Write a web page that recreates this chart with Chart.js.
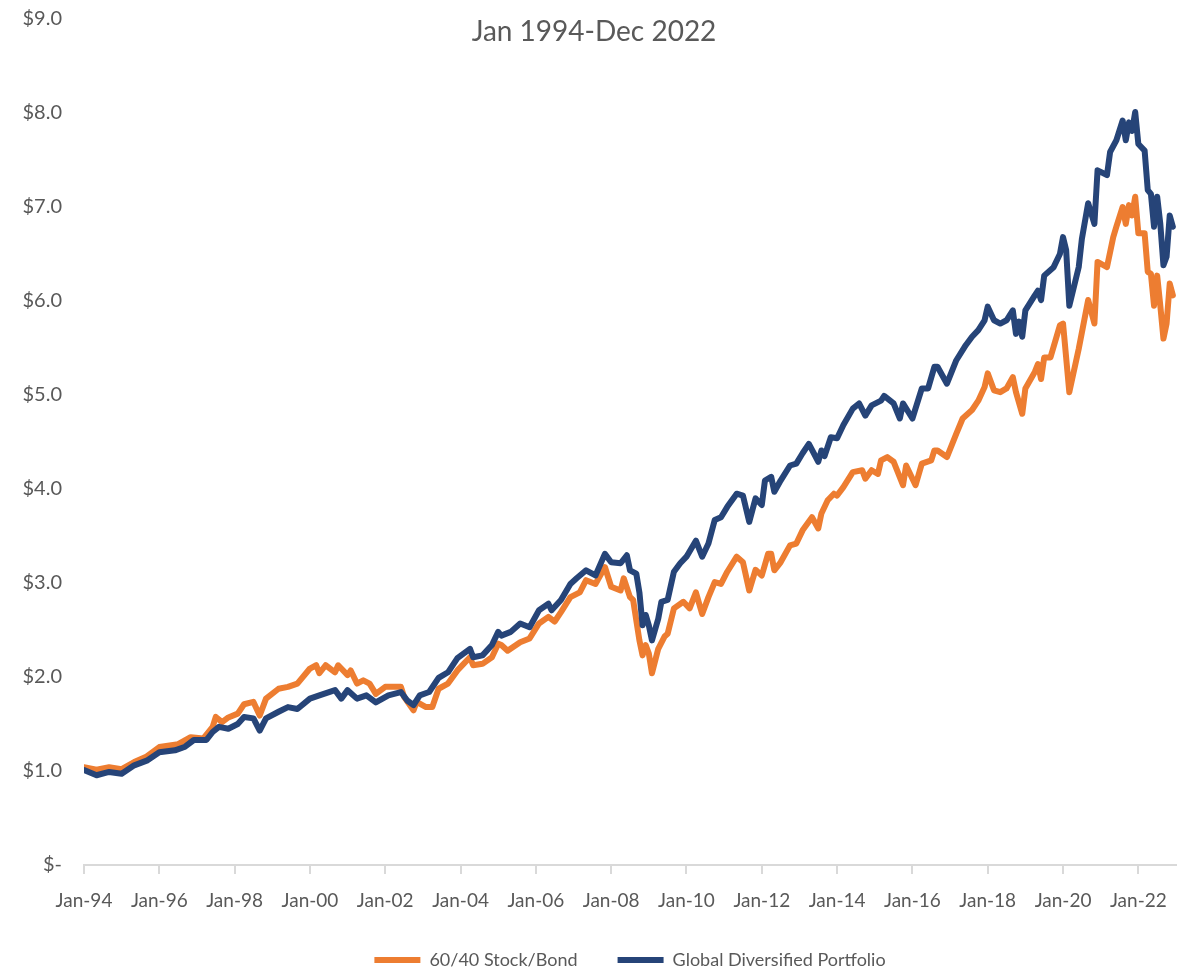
<!DOCTYPE html>
<html>
<head>
<meta charset="utf-8">
<title>Jan 1994-Dec 2022</title>
<script src="https://cdn.jsdelivr.net/npm/chart.js@4.4.0/dist/chart.umd.min.js"></script>
<style>
  html, body { margin: 0; padding: 0; background: #fff; overflow: hidden; }
  #wrap { width: 1192px; height: 990px; }
</style>
</head>
<body>
<div id="wrap"><canvas id="chart" width="1192" height="990"></canvas></div>
<script>
const chartTitle = "Jan 1994-Dec 2022";
const seriesNames = ["60/40 Stock/Bond", "Global Diversified Portfolio"];
const xTickLabels = ["Jan-94", "Jan-96", "Jan-98", "Jan-00", "Jan-02", "Jan-04", "Jan-06", "Jan-08",
  "Jan-10", "Jan-12", "Jan-14", "Jan-16", "Jan-18", "Jan-20", "Jan-22"];
const yTickLabels = ["$-", "$1.0", "$2.0", "$3.0", "$4.0", "$5.0", "$6.0", "$7.0", "$8.0", "$9.0"];

// months since Jan 1994 -> growth of $1
const stockBondMonths = [0, 4, 8, 12, 16, 20, 24, 30, 34, 38, 41, 42, 44, 46, 49, 51, 54, 56, 58, 62, 65, 68, 72, 74, 75, 77, 80, 81, 84, 85, 87, 89, 91, 93, 96, 99, 101, 102, 105, 106, 109, 111, 113, 116, 119, 123, 124, 127, 130, 132, 133, 135, 139, 142, 145, 148, 150, 152, 155, 158, 160, 163, 166, 168, 171, 172, 174, 175, 177, 178, 179, 180, 181, 183, 185, 186, 188, 191, 193, 195, 197, 199, 201, 203, 205, 208, 210, 212, 214, 216, 218, 219, 220, 222, 225, 227, 229, 232, 234, 235, 237, 239, 240, 242, 245, 248, 249, 251, 253, 254, 256, 258, 261, 262, 265, 267, 270, 271, 272, 275, 278, 280, 283, 285, 287, 288, 290, 292, 294, 296, 297, 299, 300, 303, 304, 305, 306, 308, 311, 312, 314, 317, 320, 322, 323, 326, 328, 329, 331, 332, 333, 334, 335, 336, 338, 339, 340, 341, 342, 343, 344, 345, 346, 347];
const stockBondValues = [1.04, 1.015, 1.04, 1.02, 1.095, 1.155, 1.255, 1.285, 1.36, 1.345, 1.47, 1.575, 1.52, 1.57, 1.61, 1.71, 1.735, 1.59, 1.77, 1.875, 1.895, 1.93, 2.09, 2.125, 2.04, 2.125, 2.05, 2.125, 2.02, 2.07, 1.93, 1.965, 1.93, 1.82, 1.895, 1.895, 1.895, 1.79, 1.645, 1.735, 1.68, 1.68, 1.875, 1.93, 2.07, 2.21, 2.125, 2.14, 2.21, 2.355, 2.34, 2.28, 2.37, 2.41, 2.57, 2.64, 2.59, 2.69, 2.85, 2.90, 3.03, 2.99, 3.17, 2.96, 2.92, 3.05, 2.85, 2.82, 2.39, 2.23, 2.34, 2.25, 2.04, 2.30, 2.43, 2.46, 2.73, 2.80, 2.73, 2.90, 2.67, 2.85, 3.01, 2.99, 3.12, 3.28, 3.22, 2.92, 3.14, 3.08, 3.31, 3.31, 3.135, 3.22, 3.40, 3.42, 3.56, 3.70, 3.58, 3.74, 3.88, 3.95, 3.93, 4.02, 4.18, 4.20, 4.11, 4.20, 4.16, 4.305, 4.34, 4.29, 4.04, 4.25, 4.04, 4.27, 4.305, 4.41, 4.41, 4.34, 4.59, 4.75, 4.84, 4.94, 5.085, 5.23, 5.05, 5.03, 5.07, 5.19, 5.03, 4.80, 5.07, 5.245, 5.33, 5.17, 5.40, 5.40, 5.74, 5.76, 5.03, 5.49, 6.01, 5.76, 6.415, 6.36, 6.68, 6.79, 7.00, 6.82, 7.02, 6.91, 7.11, 6.72, 6.72, 6.31, 6.29, 5.95, 6.27, 5.95, 5.60, 5.76, 6.185, 6.06];

const globalMonths = [0, 4, 8, 12, 16, 20, 24, 29, 32, 35, 39, 41, 43, 46, 49, 51, 54, 56, 58, 62, 65, 68, 72, 75, 80, 82, 84, 87, 90, 93, 97, 101, 103, 105, 107, 110, 113, 116, 119, 123, 124, 127, 130, 132, 133, 136, 139, 142, 145, 148, 149, 152, 155, 157, 160, 163, 166, 168, 171, 173, 174, 176, 177, 178, 179, 180, 181, 183, 184, 186, 188, 190, 192, 195, 197, 199, 201, 203, 205, 208, 210, 212, 214, 216, 217, 219, 220, 222, 225, 227, 229, 231, 234, 235, 236, 238, 240, 242, 245, 247, 249, 251, 254, 255, 258, 260, 261, 264, 267, 269, 271, 272, 275, 278, 281, 283, 285, 287, 288, 290, 292, 294, 296, 297, 298, 299, 300, 303, 304, 305, 306, 309, 311, 312, 313, 314, 317, 318, 320, 322, 323, 326, 327, 329, 331, 332, 333, 334, 335, 336, 338, 339, 340, 341, 342, 343, 344, 345, 346, 347];
const globalValues = [1.01, 0.955, 0.99, 0.97, 1.06, 1.11, 1.20, 1.22, 1.255, 1.33, 1.33, 1.415, 1.47, 1.45, 1.50, 1.575, 1.56, 1.43, 1.56, 1.63, 1.68, 1.66, 1.77, 1.805, 1.86, 1.77, 1.86, 1.77, 1.805, 1.73, 1.805, 1.84, 1.75, 1.70, 1.805, 1.84, 1.99, 2.05, 2.20, 2.30, 2.21, 2.23, 2.34, 2.48, 2.44, 2.48, 2.57, 2.53, 2.71, 2.78, 2.71, 2.82, 2.99, 3.05, 3.135, 3.08, 3.31, 3.22, 3.21, 3.295, 3.135, 3.10, 2.90, 2.55, 2.66, 2.55, 2.39, 2.62, 2.80, 2.82, 3.12, 3.21, 3.28, 3.45, 3.28, 3.42, 3.67, 3.70, 3.81, 3.95, 3.93, 3.65, 3.90, 3.83, 4.09, 4.13, 3.97, 4.09, 4.25, 4.27, 4.38, 4.48, 4.29, 4.41, 4.35, 4.55, 4.54, 4.68, 4.855, 4.91, 4.78, 4.89, 4.94, 4.99, 4.91, 4.75, 4.91, 4.75, 5.07, 5.07, 5.30, 5.30, 5.12, 5.37, 5.53, 5.62, 5.69, 5.795, 5.94, 5.795, 5.76, 5.795, 5.90, 5.65, 5.78, 5.62, 5.90, 6.06, 6.11, 6.01, 6.27, 6.36, 6.50, 6.68, 6.54, 5.95, 6.36, 6.66, 7.04, 6.82, 7.39, 7.34, 7.585, 7.71, 7.92, 7.71, 7.90, 7.81, 8.01, 7.67, 7.60, 7.18, 7.14, 6.79, 7.11, 6.82, 6.38, 6.47, 6.91, 6.79];

const textColor = "#595959";
const axisColor = "#d9d9d9";
const fontFamily = "Lato, 'Open Sans', sans-serif";

const toPoints = (months, values) => months.map((m, i) => ({ x: m, y: values[i] }));

// Excel-style title sits over the top of the plot area
const overlayTitle = {
  id: "overlayTitle",
  afterDraw(chart) {
    const { ctx } = chart;
    ctx.save();
    ctx.font = "28px " + fontFamily;
    ctx.fillStyle = textColor;
    ctx.textAlign = "center";
    ctx.textBaseline = "middle";
    ctx.fillText(chartTitle, 594, 32);
    ctx.restore();
  },
};

new Chart(document.getElementById("chart"), {
  type: "line",
  data: {
    datasets: [
      {
        label: seriesNames[1],
        data: toPoints(globalMonths, globalValues),
        borderColor: "#264478",
        backgroundColor: "#264478",
        borderWidth: 6,
      },
      {
        label: seriesNames[0],
        data: toPoints(stockBondMonths, stockBondValues),
        borderColor: "#ed7d31",
        backgroundColor: "#ed7d31",
        borderWidth: 6,
      },
    ],
  },
  options: {
    responsive: false,
    animation: false,
    layout: { padding: { top: 19, right: 16, bottom: 11, left: 0 } },
    elements: {
      point: { radius: 0 },
      line: { tension: 0, borderJoinStyle: "round", borderCapStyle: "round" },
    },
    plugins: {
      title: { display: false },
      tooltip: { enabled: false },
      legend: {
        position: "bottom",
        fullSize: false,
        reverse: true,
        labels: {
          usePointStyle: true,
          pointStyle: "line",
          pointStyleWidth: 46,
          padding: 40,
          color: textColor,
          font: { family: fontFamily, size: 18 },
        },
      },
    },
    scales: {
      x: {
        type: "linear",
        min: 0,
        max: 348,
        afterFit: (scale) => { scale.height = 46; },
        ticks: {
          stepSize: 24,
          includeBounds: false,
          autoSkip: false,
          maxRotation: 0,
          padding: 15,
          color: textColor,
          font: { family: fontFamily, size: 19 },
          callback: (v) => xTickLabels[v / 24],
        },
        grid: { display: true, drawOnChartArea: false, drawTicks: true, tickLength: 9, color: axisColor, lineWidth: 2 },
        border: { display: true, color: axisColor, width: 2 },
      },
      y: {
        min: 0,
        max: 9,
        afterFit: (scale) => { scale.width = 84; },
        ticks: {
          stepSize: 1,
          padding: 0,
          color: textColor,
          font: { family: fontFamily, size: 20 },
          callback: (v) => yTickLabels[v],
        },
        // hidden tick marks still push the labels away from the plot
        grid: { display: false, drawTicks: true, tickLength: 22 },
        border: { display: false },
      },
    },
  },
  plugins: [overlayTitle],
});
</script>
</body>
</html>
